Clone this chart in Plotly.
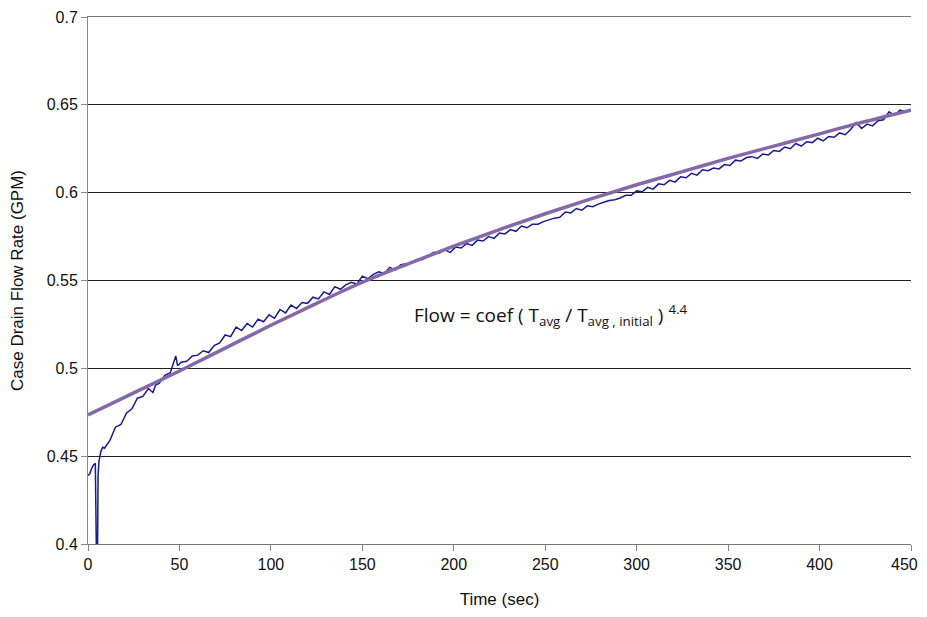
import plotly.graph_objects as go

# Measured case drain flow (GPM) vs time (sec)
time_meas = [0, 1, 2, 3, 4, 4.5, 5, 5.5, 6, 7, 8, 9, 10, 11, 12,
             15, 18, 21, 24, 27, 30, 33, 35.5, 37, 39, 42, 45, 48, 49,
             51, 54, 57, 60, 63, 66, 69, 72, 75, 78, 81, 84, 87, 90, 93, 96, 99,
             102, 105, 108, 111, 114, 117, 120, 123, 126, 129, 132, 135, 138, 141, 144, 147,
             150, 153, 156, 159, 162, 165, 168, 171, 174, 177, 180, 183, 186, 189, 192, 195, 198,
             201, 204, 207, 210, 213, 216, 219, 222, 225, 228, 231, 234, 237, 240, 243, 246, 249,
             252, 255, 258, 261, 264, 267, 270, 273, 276, 279, 282, 285, 288, 291, 294, 297,
             300, 303, 306, 309, 312, 315, 318, 321, 324, 327, 330, 333, 336, 339, 342, 345, 348,
             351, 354, 357, 360, 363, 366, 369, 372, 375, 378, 381, 384, 387, 390, 393, 396, 399,
             402, 405, 408, 411, 414, 417, 420, 423, 426, 429, 432, 435, 438, 441, 444, 447, 450]
flow_meas = [0.439, 0.440, 0.443, 0.445, 0.446, 0.36, 0.36, 0.439, 0.447, 0.4525, 0.455, 0.4545, 0.456, 0.458, 0.459,
             0.4665, 0.4680, 0.4745, 0.4770, 0.4830, 0.4840, 0.4885, 0.4862, 0.4905, 0.4915, 0.4960, 0.4975, 0.5070, 0.5015,
             0.5035, 0.5040, 0.5070, 0.5075, 0.5100, 0.5090, 0.5130, 0.5145, 0.5190, 0.5180, 0.5235, 0.5215, 0.5255, 0.5235, 0.5280, 0.5265, 0.5305,
             0.5285, 0.5335, 0.5315, 0.5360, 0.5340, 0.5375, 0.5370, 0.5405, 0.5395, 0.5435, 0.5420, 0.5465, 0.5450, 0.5475, 0.5490, 0.5480,
             0.5525, 0.5510, 0.5535, 0.5550, 0.5540, 0.5575, 0.5560, 0.5590, 0.5595, 0.5600, 0.5620, 0.5620, 0.5640, 0.5660, 0.5655, 0.5675, 0.5660,
             0.5690, 0.5685, 0.5710, 0.5700, 0.5730, 0.5725, 0.5750, 0.5740, 0.5770, 0.5765, 0.5790, 0.5780, 0.5810, 0.5800, 0.5820, 0.5820, 0.5835,
             0.5845, 0.5855, 0.5860, 0.5890, 0.5885, 0.5910, 0.5900, 0.5925, 0.5920, 0.5935, 0.5945, 0.5955, 0.5960, 0.5970, 0.5985, 0.5985,
             0.6010, 0.6005, 0.6030, 0.6020, 0.6050, 0.6045, 0.6070, 0.6060, 0.6090, 0.6085, 0.6110, 0.6100, 0.6130, 0.6125, 0.6140, 0.6135, 0.6160,
             0.6155, 0.6185, 0.6180, 0.6200, 0.6205, 0.6195, 0.6220, 0.6215, 0.6240, 0.6235, 0.6260, 0.6250, 0.6280, 0.6265, 0.6290, 0.6285, 0.6310,
             0.6295, 0.6320, 0.6315, 0.6340, 0.6330, 0.6360, 0.6400, 0.6365, 0.6390, 0.6380, 0.6410, 0.6415, 0.6460, 0.6440, 0.6470, 0.6460, 0.6470]

# Model fit: Flow = coef (T_avg / T_avg,initial)^4.4
time_fit = [0, 25, 50, 75, 100, 125, 150, 175, 200, 225, 250, 275, 300, 325, 350, 375, 400, 425, 450]
flow_fit = [0.4735, 0.486, 0.4985, 0.5115, 0.5245, 0.537, 0.549, 0.5595, 0.5695, 0.579, 0.588,
            0.5965, 0.6045, 0.612, 0.6195, 0.6265, 0.6335, 0.6405, 0.647]

x_ticks = [0, 50, 100, 150, 200, 250, 300, 350, 400, 450]
x_tick_text = ["0", "50", "100", "150", "200", "250", "300", "350", "400", "450\u00a0\u00a0\u00a0"]
y_ticks = [0.4, 0.45, 0.5, 0.55, 0.6, 0.65, 0.7]
y_tick_text = ["0.4", "0.45", "0.5", "0.55", "0.6", "0.65", "0.7"]

fig = go.Figure()
fig.add_trace(go.Scatter(x=time_meas, y=flow_meas, mode="lines",
                         line=dict(color="#1a1a8c", width=1.5), showlegend=False))
fig.add_trace(go.Scatter(x=time_fit, y=flow_fit, mode="lines",
                         line=dict(color="#8468a8", width=3.5, shape="spline"), showlegend=False))

fig.add_annotation(x=0.5626, y=0.5304, xref="paper", yref="y", xanchor="center", yanchor="middle",
                   text="Flow = coef ( T<sub>avg</sub> / T<sub>avg , initial</sub> ) <sup>4.4</sup>",
                   showarrow=False, font=dict(family="Open Sans, Noto Sans, sans-serif", size=19, color="#111"))

fig.update_layout(
    width=919, height=601,
    margin=dict(l=80, r=16, t=9, b=65),
    paper_bgcolor="white", plot_bgcolor="white",
    font=dict(family="Liberation Sans, Arial, sans-serif", size=16, color="#111"),
)
fig.update_xaxes(range=[0, 450], tickvals=x_ticks, ticktext=x_tick_text, ticks="outside", ticklen=6,
                 tickcolor="#888", showline=True, linecolor="#777", linewidth=1, mirror=True,
                 showgrid=False, zeroline=False,
                 automargin=False, tickfont=dict(size=16), ticklabeloverflow="allow",
                 title=dict(text="Time (sec)", font=dict(size=17), standoff=27))
fig.update_yaxes(range=[0.4, 0.7], tickvals=y_ticks, ticktext=y_tick_text, ticks="outside", ticklen=6,
                 tickcolor="#888", showline=True, linecolor="#888", linewidth=1,
                 showgrid=True, gridcolor="#222", gridwidth=1, zeroline=False,
                 automargin=False, tickfont=dict(size=16),
                 title=dict(text="Case Drain Flow Rate (GPM)", font=dict(size=17), standoff=18))

fig.write_html("out.html", default_width="919px", default_height="601px")
